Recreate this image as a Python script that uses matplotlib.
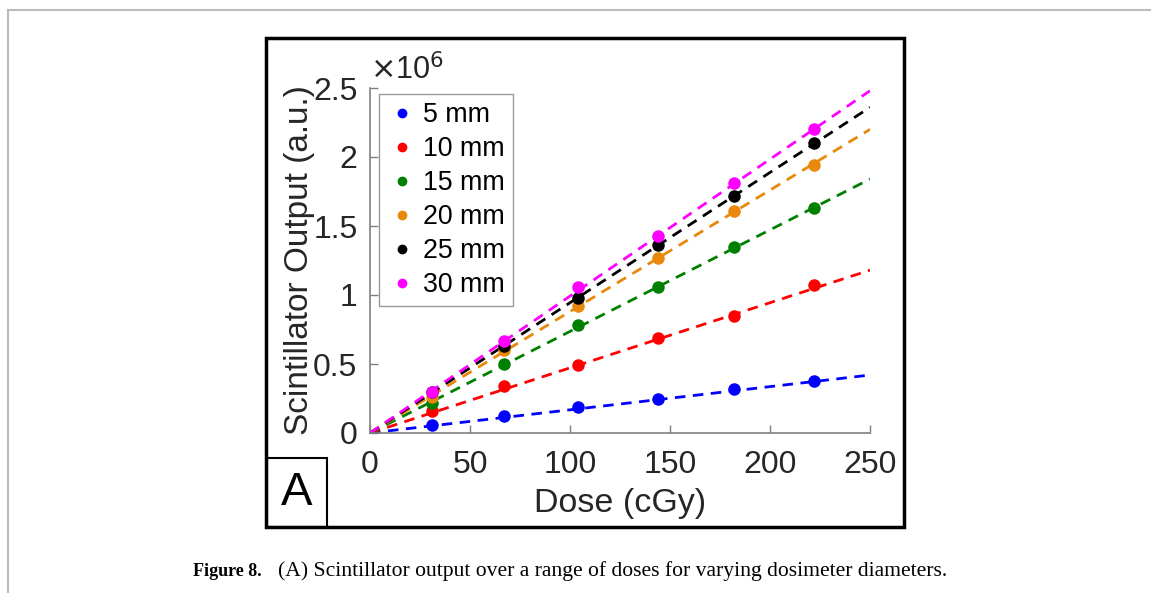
import matplotlib
matplotlib.use("Agg")
import matplotlib.pyplot as plt
from matplotlib.patches import Rectangle
from matplotlib.lines import Line2D

# ---- data ----
dose = [31, 67, 104, 144, 182, 222]
labels = ["5 mm", "10 mm", "15 mm", "20 mm", "25 mm", "30 mm"]
out_5 = [0.058, 0.12, 0.19, 0.25, 0.32, 0.375]
out_10 = [0.16, 0.34, 0.49, 0.69, 0.85, 1.07]
out_15 = [0.22, 0.50, 0.78, 1.06, 1.35, 1.63]
out_20 = [0.26, 0.60, 0.92, 1.27, 1.61, 1.94]
out_25 = [0.30, 0.63, 0.98, 1.36, 1.72, 2.10]
out_30 = [0.30, 0.67, 1.06, 1.43, 1.81, 2.20]
fit_dose = [0, 250]
fit_5 = [0, 0.42]
fit_10 = [0, 1.18]
fit_15 = [0, 1.84]
fit_20 = [0, 2.20]
fit_25 = [0, 2.36]
fit_30 = [0, 2.48]
xticks = [0, 50, 100, 150, 200, 250]
yticks = [0, 0.5, 1, 1.5, 2, 2.5]
ytick_labels = ["0", "0.5", "1", "1.5", "2", "2.5"]
caption_bold = "Figure 8."
caption_text = "(A) Scintillator output over a range of doses for varying dosimeter diameters."

series = [out_5, out_10, out_15, out_20, out_25, out_30]
fits = [fit_5, fit_10, fit_15, fit_20, fit_25, fit_30]
colors = ["#0000ff", "#ff0000", "#008000", "#e8890c", "#000000", "#ff00ff"]

W, H = 1151, 593
fig = plt.figure(figsize=(W / 100, H / 100), dpi=100)
plt.rcParams['font.family'] = ['Liberation Sans', 'DejaVu Sans']

def fx(px):
    return px / W

def fy(py):
    return 1 - py / H

ax = fig.add_axes([fx(370), fy(433), fx(870) - fx(370), fy(88) - fy(433)])
for s, f, c, lab in zip(series, fits, colors, labels):
    ax.plot(fit_dose, f, linestyle=(0, (3.8, 2.7)), color=c, lw=2.0, zorder=2)
    ax.plot(dose, s, 'o', color=c, ms=8, zorder=3, label=lab)

ax.set_xlim(0, 250)
ax.set_ylim(0, 2.5)
ax.set_xticks(xticks)
ax.set_yticks(yticks)
ax.set_yticklabels(ytick_labels)
gray = "#262626"
ax.tick_params(direction='in', length=6, width=1, color="#808080",
               labelsize=23, labelcolor=gray)
ax.tick_params(axis='x', pad=12)
ax.tick_params(axis='y', pad=9)
for side in ['top', 'right']:
    ax.spines[side].set_visible(False)
for side in ['left', 'bottom']:
    ax.spines[side].set_color("#808080")
    ax.spines[side].set_linewidth(1.2)

ax.set_xlabel("Dose (cGy)", fontsize=24.5, color=gray, labelpad=6)
ax.set_ylabel("Scintillator Output (a.u.)", fontsize=24, color=gray)
ax.yaxis.set_label_coords(-0.11, 0.5)
ax.text(0.0, 1.005, r"$\times$10$^6$", transform=ax.transAxes, fontsize=22,
        color=gray, ha='left', va='bottom')

handles = [Line2D([], [], marker='o', ls='none', color=c, ms=6) for c in colors]
leg = ax.legend(handles, labels, loc='upper left', bbox_to_anchor=(0.018, 0.983),
                fontsize=19.3, frameon=True, fancybox=False, edgecolor="#808080",
                handletextpad=0.28, labelspacing=0.3, borderpad=0.3,
                handlelength=1.08, borderaxespad=0)
leg.get_frame().set_linewidth(1.0)
for t in leg.get_texts():
    t.set_color("black")

# outer frame
fig.patches.append(Rectangle((fx(266), fy(527)), fx(904) - fx(266), fy(38) - fy(527),
                             transform=fig.transFigure, fill=False, ec='black', lw=2.5))
# A box
fig.patches.append(Rectangle((fx(267), fy(527)), fx(327) - fx(267), fy(458) - fy(527),
                             transform=fig.transFigure, fill=False, ec='black', lw=1.5))
fig.text(fx(297), fy(493), "A", fontsize=34, ha='center', va='center', color='black')

# page lines
fig.add_artist(Line2D([fx(8), 1], [fy(10), fy(10)], transform=fig.transFigure,
                      color="#bbbbbb", lw=1.5))
fig.add_artist(Line2D([fx(8), fx(8)], [fy(10), 0], transform=fig.transFigure,
                      color="#bbbbbb", lw=1.5))

# caption
fig.text(fx(193), fy(571), caption_bold, fontsize=13, fontweight='bold',
         family=['Liberation Serif', 'DejaVu Serif'], ha='left', va='center')
fig.text(fx(278), fy(571), caption_text, fontsize=15.6,
         family=['Liberation Serif', 'DejaVu Serif'], ha='left', va='center')

fig.savefig("out.png", dpi=100)
